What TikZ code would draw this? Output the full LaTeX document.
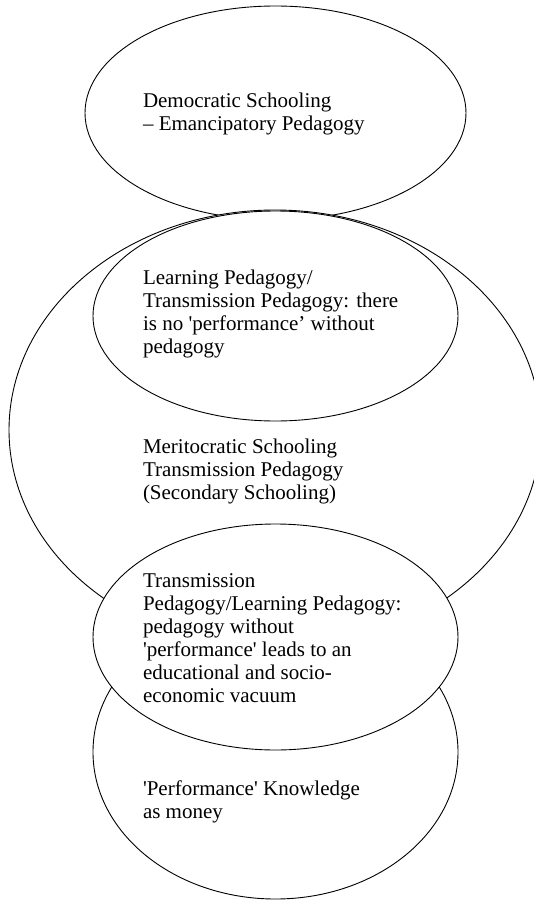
\documentclass[tikz,border=0pt]{standalone}
\usepackage{fontspec}
\newfontfamily\diagfont{Liberation Serif}
\usetikzlibrary{shapes.geometric}

\tikzset{
  ell/.style={ellipse, draw=black, fill=white, line width=0.9pt, inner sep=0pt},
  txt/.style={anchor=base west, inner sep=0pt, outer sep=0pt}
}
\newcommand{\blocktext}[1]{\parbox[t]{330pt}{\diagfont\fontsize{21}{23}\selectfont #1}}

\begin{document}
\begin{tikzpicture}[x=1pt, y=-1pt]
  % page frame
  \fill[white] (0,0) rectangle (534,900);
  \useasboundingbox (0,0) rectangle (534,900);

  % ellipses, back to front
  \node[ell, minimum width=381pt, minimum height=214pt] (demo) at (275.5,113) {};
  \node[ell, minimum width=532pt, minimum height=440pt] (merit) at (275,430) {};
  \node[ell, minimum width=365pt, minimum height=294pt] (perf) at (275.5,752) {};
  \node[ell, minimum width=365pt, minimum height=226pt] (tlp) at (275.5,637) {};
  \node[ell, minimum width=365pt, minimum height=210pt] (ltp) at (275.5,316) {};

  % labels
  \node[txt] (demotext) at (143,107) {\blocktext{Democratic Schooling\\– Emancipatory Pedagogy}};
  \node[txt] (ltptext) at (143,284) {\blocktext{Learning Pedagogy/\\Transmission Pedagogy: there\\is no 'performance’ without\\pedagogy}};
  \node[txt] (merittext) at (143,453) {\blocktext{Meritocratic Schooling\\Transmission Pedagogy\\(Secondary Schooling)}};
  \node[txt] (tlptext) at (143,587) {\blocktext{Transmission\\Pedagogy/Learning Pedagogy:\\pedagogy without\\'performance' leads to an\\educational and socio-\\economic vacuum}};
  \node[txt] (perftext) at (143,795) {\blocktext{'Performance' Knowledge\\as money}};
\end{tikzpicture}
\end{document}
